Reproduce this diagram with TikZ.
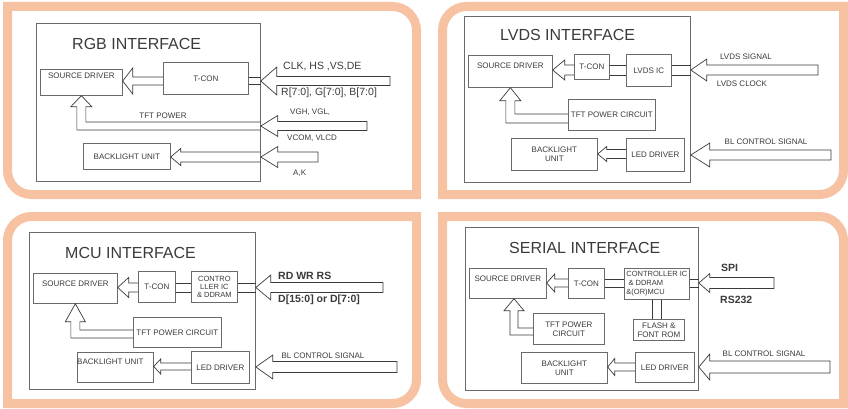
\documentclass[tikz,border=0pt]{standalone}
\usepackage{fontspec}
\setmainfont{Liberation Sans}
\usetikzlibrary{calc}

\definecolor{peach}{HTML}{F6C2A2}
\definecolor{ink}{HTML}{3A3A3A}
\definecolor{edge}{HTML}{6A6A6A}

\tikzset{
  band/.style={draw=peach, line width=9pt, line join=miter},
  panel/.style={draw=edge, line width=0.8pt, inner sep=0pt, anchor=north west},
  unit/.style={draw=edge, line width=0.7pt, inner sep=0pt, anchor=north west,
    align=center, text=ink, font=\fontsize{8}{9}\selectfont},
  hol/.style={draw=ink, line width=0.7pt, line join=miter},
  title/.style={anchor=west, text=ink, inner sep=0pt, font=\fontsize{16}{18}\selectfont},
  tag/.style={text=ink, inner sep=0pt, font=\fontsize{8}{9}\selectfont},
  big/.style={text=ink, inner sep=0pt, anchor=west, font=\fontsize{10.5}{12}\selectfont},
  bigb/.style={big, font=\fontsize{10.5}{12}\selectfont\bfseries},
}

% hollow arrow pointing left, closed tail: tail point, tip point, shaft half, head half, head length
\newcommand\harrowclosed[5]{%
  \draw[hol] let \p1=(#1),\p2=(#2) in
    (\x1,\y2+#3pt) -- (\x2+#5pt,\y2+#3pt) -- (\x2+#5pt,\y2+#4pt) -- (\x2,\y2)
    -- (\x2+#5pt,\y2-#4pt) -- (\x2+#5pt,\y2-#3pt) -- (\x1,\y2-#3pt) -- cycle;}
% same, open at the tail (tail sits on a box edge)
\newcommand\harrowopen[5]{%
  \draw[hol] let \p1=(#1),\p2=(#2) in
    (\x1,\y2+#3pt) -- (\x2+#5pt,\y2+#3pt) -- (\x2+#5pt,\y2+#4pt) -- (\x2,\y2)
    -- (\x2+#5pt,\y2-#4pt) -- (\x2+#5pt,\y2-#3pt) -- (\x1,\y2-#3pt);}
% pair of parallel lines between two points (y from the second)
\newcommand\dlines[3]{%
  \draw[hol] let \p1=(#1),\p2=(#2) in
    (\x1,\y2+#3pt) -- (\x2,\y2+#3pt) (\x1,\y2-#3pt) -- (\x2,\y2-#3pt);}
% L-shaped hollow arrow: start (horizontal centre), tip, horiz half, vert half, head half, head length
\newcommand\Larrow[6]{%
  \draw[hol] let \p1=(#1),\p2=(#2) in
    (\x1,\y1-#3pt) -- (\x2-#4pt,\y1-#3pt) -- (\x2-#4pt,\y2-#6pt) -- (\x2-#5pt,\y2-#6pt)
    -- (\x2,\y2) -- (\x2+#5pt,\y2-#6pt) -- (\x2+#4pt,\y2-#6pt) -- (\x2+#4pt,\y1+#3pt) -- (\x1,\y1+#3pt);}

\begin{document}
\begin{tikzpicture}[x=1pt,y=1pt]
\useasboundingbox (0,0) rectangle (848,-409);

% ---------- peach frames ----------
\draw[band] (7.5,-6.5) -- (392.5,-6.5) arc[start angle=90,end angle=0,radius=24pt]
  -- (416.5,-194.5) -- (31.5,-194.5) arc[start angle=270,end angle=180,radius=24pt] -- cycle;
\draw[band] (442.5,-30.5) arc[start angle=180,end angle=90,radius=24pt]
  -- (843.5,-6.5) -- (843.5,-170.5) arc[start angle=0,end angle=-90,radius=24pt]
  -- (442.5,-194.5) -- cycle;
\draw[band] (7.5,-240.5) arc[start angle=180,end angle=90,radius=24pt]
  -- (416.5,-216.5) -- (416.5,-379.5) arc[start angle=0,end angle=-90,radius=24pt]
  -- (7.5,-403.5) -- cycle;
\draw[band] (442.5,-216.5) -- (819.5,-216.5) arc[start angle=90,end angle=0,radius=24pt]
  -- (843.5,-403.5) -- (466.5,-403.5) arc[start angle=270,end angle=180,radius=24pt] -- cycle;

% ---------- RGB interface ----------
\node[panel, minimum width=224pt, minimum height=158pt] (f1) at (36,-23) {};
\node[title] (t1) at (72,-44) {RGB INTERFACE};
\node[unit, minimum width=82pt, minimum height=26pt] (sd1) at (40,-69) {};
\node[tag, anchor=north] (sdt1) at ($(sd1.north)+(0,-3.5)$) {SOURCE DRIVER};
\node[unit, minimum width=85pt, minimum height=32pt] (tc1) at (163,-62) {T-CON};
\node[unit, minimum width=87pt, minimum height=26pt] (bu1) at (83,-143) {BACKLIGHT UNIT};
\node[tag] (tp1) at (163,-116) {TFT POWER};
\node[big] (l1a) at (283,-67) {CLK, HS ,VS,DE};
\node[big] (l1b) at (281,-93) {R[7:0], G[7:0], B[7:0]};
\node[tag, anchor=west] (l1c) at (290,-112) {VGH, VGL,};
\node[tag, anchor=west] (l1d) at (287,-138) {VCOM, VLCD};
\node[tag, anchor=west] (l1e) at (293,-173) {A,K};

\coordinate (r1a) at (0,-81);
\harrowopen{tc1.west |- r1a}{sd1.east |- r1a}{4}{13}{10}
\dlines{tc1.east}{f1.east |- r1a}{3.5}
\coordinate (in1a) at (390,-81);
\harrowclosed{in1a}{f1.east |- in1a}{4.5}{14}{16}

\coordinate (in1b) at (367,-126);
\harrowclosed{in1b}{f1.east |- in1b}{4.5}{10.5}{17}
\Larrow{f1.east |- in1b}{sd1.south}{4}{4.5}{10.5}{11}

\coordinate (in1c) at (318,-157);
\harrowopen{f1.east |- in1c}{bu1.east |- in1c}{5}{8.5}{10}
\harrowclosed{in1c}{f1.east |- in1c}{5}{10.5}{17}

% ---------- LVDS interface ----------
\node[panel, minimum width=226pt, minimum height=166pt] (f2) at (464,-16) {};
\node[title] (t2) at (500,-35) {LVDS INTERFACE};
\node[unit, minimum width=84pt, minimum height=32pt] (sd2) at (468,-55) {};
\node[tag, anchor=north] (sdt2) at ($(sd2.north)+(0,-8)$) {SOURCE DRIVER};
\node[unit, minimum width=35pt, minimum height=25pt] (tc2) at (574,-54) {T-CON};
\node[unit, minimum width=45pt, minimum height=32pt] (lv2) at (626,-54) {LVDS IC};
\node[unit, minimum width=87pt, minimum height=31pt] (tp2) at (568,-99) {TFT POWER CIRCUIT};
\node[unit, minimum width=86pt, minimum height=32pt] (bu2) at (511,-138) {BACKLIGHT\\UNIT};
\node[unit, minimum width=58pt, minimum height=33pt] (ld2) at (626,-138) {LED DRIVER};
\node[tag] (l2a) at (746,-57) {LVDS SIGNAL};
\node[tag] (l2b) at (742,-84) {LVDS CLOCK};
\node[tag] (l2c) at (766,-142) {BL CONTROL SIGNAL};

\coordinate (r2a) at (0,-70);
\harrowopen{tc2.west |- r2a}{sd2.east |- r2a}{5}{10}{12}
\dlines{tc2.east}{lv2.west |- r2a}{5}
\dlines{lv2.east}{f2.east |- r2a}{5}
\coordinate (in2a) at (818,-70);
\harrowclosed{in2a}{f2.east |- in2a}{5}{11}{16}
\coordinate (r2b) at (0,-118.5);
\Larrow{tp2.west |- r2b}{sd2.south}{4.5}{4.5}{10.5}{13}
\coordinate (r2c) at (0,-154);
\harrowopen{ld2.west |- r2c}{bu2.east |- r2c}{4.5}{7.5}{9}
\coordinate (in2b) at (831,-155);
\harrowclosed{in2b}{f2.east |- in2b}{5}{12}{19}

% ---------- MCU interface ----------
\node[panel, minimum width=226pt, minimum height=157pt] (f3) at (29,-232) {};
\node[title] (t3) at (65,-253) {MCU INTERFACE};
\node[unit, minimum width=84pt, minimum height=30pt] (sd3) at (33,-273) {};
\node[tag, anchor=north] (sdt3) at ($(sd3.north)+(0,-8)$) {SOURCE DRIVER};
\node[unit, minimum width=37pt, minimum height=31pt] (tc3) at (138,-271) {T-CON};
\node[unit, minimum width=46pt, minimum height=31pt, font=\fontsize{7.5}{7.6}\selectfont] (ct3) at (191,-271) {CONTRO\\LLER IC\\\& DDRAM};
\node[unit, minimum width=88pt, minimum height=30pt] (tp3) at (133,-317) {TFT POWER CIRCUIT};
\node[unit, minimum width=76pt, minimum height=30pt] (bu3) at (77,-352) {};
\node[tag, anchor=north] (but3) at ($(bu3.north)+(-5,-7)$) {BACKLIGHT UNIT};
\node[unit, minimum width=58pt, minimum height=32pt] (ld3) at (191,-351) {LED DRIVER};
\node[bigb] (l3a) at (278,-276) {RD WR RS};
\node[bigb] (l3b) at (278,-300) {D[15:0] or D[7:0]};
\node[tag] (l3c) at (323,-356) {BL CONTROL SIGNAL};

\coordinate (r3a) at (0,-287.5);
\harrowopen{tc3.west |- r3a}{sd3.east |- r3a}{4.5}{10}{11}
\dlines{tc3.east}{ct3.west |- r3a}{4.5}
\dlines{ct3.east}{f3.east |- r3a}{4.5}
\coordinate (in3a) at (383,-287.5);
\harrowclosed{in3a}{f3.east |- in3a}{5}{12.5}{15}
\coordinate (r3b) at (0,-334);
\Larrow{tp3.west |- r3b}{sd3.south}{4}{4.5}{10}{18}
\coordinate (r3c) at (0,-366.5);
\harrowopen{ld3.west |- r3c}{bu3.east |- r3c}{3.5}{7.5}{7}
\coordinate (in3b) at (397,-367);
\harrowclosed{in3b}{f3.east |- in3b}{5.5}{12}{17}

% ---------- Serial interface ----------
\node[panel, minimum width=233pt, minimum height=163pt] (f4) at (465,-227) {};
\node[title] (t4) at (509,-248) {SERIAL INTERFACE};
\node[unit, minimum width=77pt, minimum height=30pt] (sd4) at (469,-268) {};
\node[tag, anchor=north] (sdt4) at ($(sd4.north)+(0,-8)$) {SOURCE DRIVER};
\node[unit, minimum width=36pt, minimum height=30pt] (tc4) at (568,-268) {T-CON};
\node[unit, minimum width=65pt, minimum height=31pt, align=left, font=\fontsize{7.5}{9}\selectfont] (ct4) at (624,-268) {CONTROLLER IC\\\ \& DDRAM\\\&(OR)MCU};
\node[unit, minimum width=51pt, minimum height=21pt] (fl4) at (633,-319) {FLASH \&\\FONT ROM};
\node[unit, minimum width=71pt, minimum height=31pt] (tp4) at (533,-313) {TFT POWER\\CIRCUIT};
\node[unit, minimum width=86pt, minimum height=31pt] (bu4) at (521,-352) {BACKLIGHT\\UNIT};
\node[unit, minimum width=59pt, minimum height=30pt] (ld4) at (635,-352) {LED DRIVER};
\node[bigb] (l4a) at (721,-268) {SPI};
\node[bigb] (l4b) at (720,-300) {RS232};
\node[tag] (l4c) at (764,-354) {BL CONTROL SIGNAL};

\coordinate (r4a) at (0,-283);
\harrowopen{tc4.west |- r4a}{sd4.east |- r4a}{4}{9}{8}
\dlines{tc4.east}{ct4.west |- r4a}{4}
\dlines{ct4.east}{f4.east |- r4a}{4}
\coordinate (in4a) at (774,-283);
\harrowclosed{in4a}{f4.east |- in4a}{5.5}{9.5}{11}
\draw[hol] let \p1=(ct4.south),\p2=(fl4.north) in
  (\x1-4.5pt,\y1) -- (\x1-4.5pt,\y2) (\x1+4.5pt,\y1) -- (\x1+4.5pt,\y2);
\coordinate (r4b) at (0,-331.5);
\coordinate (c4) at (514,0);
\Larrow{tp4.west |- r4b}{c4 |- sd4.south}{3.5}{4}{10}{12}
\coordinate (r4c) at (0,-367);
\harrowopen{ld4.west |- r4c}{bu4.east |- r4c}{4}{8.5}{7}
\coordinate (in4b) at (830,-367);
\harrowclosed{in4b}{f4.east |- in4b}{6}{13}{11}

\end{tikzpicture}
\end{document}
